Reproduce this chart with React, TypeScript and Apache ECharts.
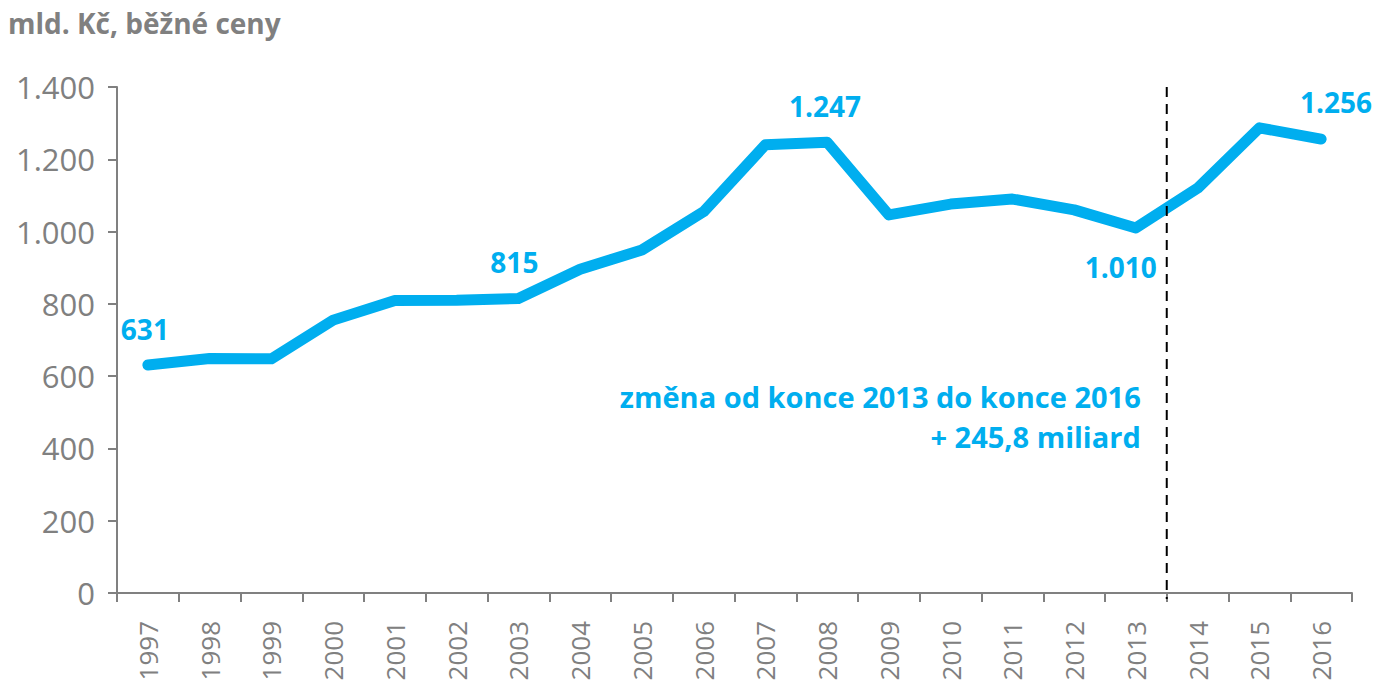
import React, { useEffect, useRef } from "react";
import * as echarts from "echarts";

const years = ["1997","1998","1999","2000","2001","2002","2003","2004","2005","2006","2007","2008","2009","2010","2011","2012","2013","2014","2015","2016"];
const values = [631, 649, 648, 755, 809, 810, 815, 896, 949, 1055, 1240, 1247, 1046, 1076, 1090, 1060, 1010, 1120, 1287, 1256];
const yTicks = [0, 200, 400, 600, 800, 1000, 1200, 1400];
const labelledYears = ["1997", "2003", "2008", "2013", "2016"];
const titleText = "mld. Kč, běžné ceny";
const noteLines = ["změna od konce 2013 do konce 2016", "+ 245,8 miliard"];

const BLUE = "#00AEEF";
const GREY = "#808080";
const FONT = "'Open Sans', 'Noto Sans', sans-serif";

const fmt = (v: number) => {
  const s = Math.round(v).toString();
  return s.length > 3 ? s.slice(0, s.length - 3) + "." + s.slice(-3) : s;
};

export default function App() {
  const ref = useRef<HTMLDivElement>(null);
  useEffect(() => {
    if (!ref.current) return;
    const chart = echarts.init(ref.current, null, { renderer: "svg" });
    const data = values.map((v, i) => {
      const y = years[i];
      if (!labelledYears.includes(y)) return { value: v };
      let position: any = "top";
      let offset: number[] = [-2, -16];
      if (y === "2013") { position = "bottom"; offset = [-15, 19]; }
      if (y === "2016") { offset = [15, -17]; }
      if (y === "1997") { offset = [-3, -16]; }
      if (y === "2003") { offset = [-4, -16]; }
      return {
        value: v,
        label: {
          show: true,
          position,
          offset,
          formatter: () => fmt(v),
          color: BLUE,
          fontSize: 28,
          fontWeight: "bold",
          fontFamily: FONT,
        },
      };
    });
    chart.setOption({
      animation: false,
      grid: { left: 117, right: 24, top: 87, bottom: 97, containLabel: false },
      xAxis: {
        type: "category",
        data: years,
        boundaryGap: true,
        axisLine: { lineStyle: { color: GREY, width: 2 } },
        axisTick: { show: true, length: 9, lineStyle: { color: GREY, width: 2 } },
        axisLabel: { rotate: 90, color: GREY, fontSize: 26, fontFamily: FONT, margin: 28, interval: 0 },
        splitLine: { show: false },
      },
      yAxis: {
        type: "value",
        min: yTicks[0],
        max: yTicks[yTicks.length - 1],
        interval: 200,
        axisLine: { show: true, lineStyle: { color: GREY, width: 2 } },
        axisTick: { show: true, length: 9, lineStyle: { color: GREY, width: 2 } },
        axisLabel: { color: GREY, fontSize: 31, fontFamily: FONT, margin: 22, formatter: (v: number) => fmt(v) },
        splitLine: { show: false },
      },
      series: [
        {
          type: "line",
          data,
          symbol: "circle",
          symbolSize: 2,
          showSymbol: true,
          showAllSymbol: true,
          lineStyle: { color: BLUE, width: 11, cap: "round", join: "round" },
          itemStyle: { color: "rgba(0,0,0,0)", borderWidth: 0 },
          label: { show: false },
          z: 3,
        },
      ],
    });
    const x13 = chart.convertToPixel({ xAxisIndex: 0 }, "2013") as number;
    const x14 = chart.convertToPixel({ xAxisIndex: 0 }, "2014") as number;
    const xm = (x13 + x14) / 2;
    const yTop = chart.convertToPixel({ yAxisIndex: 0 }, 1400) as number;
    const yBot = chart.convertToPixel({ yAxisIndex: 0 }, 0) as number;
    chart.setOption({
      graphic: [
        {
          type: "text",
          left: 8,
          top: 9,
          style: { text: titleText, fill: GREY, font: `bold 28px ${FONT}` },
        },
        {
          type: "line",
          shape: { x1: xm, y1: yTop, x2: xm, y2: yBot + 6 },
          style: { stroke: "#000", lineWidth: 2, lineDash: [10, 7] },
          z: 10,
        },
        {
          type: "text",
          x: xm - 26,
          y: 396,
          style: { text: noteLines[0], fill: BLUE, font: `bold 29px ${FONT}`, align: "right", verticalAlign: "middle" },
        },
        {
          type: "text",
          x: xm - 26,
          y: 436,
          style: { text: noteLines[1], fill: BLUE, font: `bold 29px ${FONT}`, align: "right", verticalAlign: "middle" },
        },
      ],
    });
    return () => chart.dispose();
  }, []);
  return <div ref={ref} style={{ width: 1376, height: 690, position: "absolute", left: 0, top: 0 }} />;
}
